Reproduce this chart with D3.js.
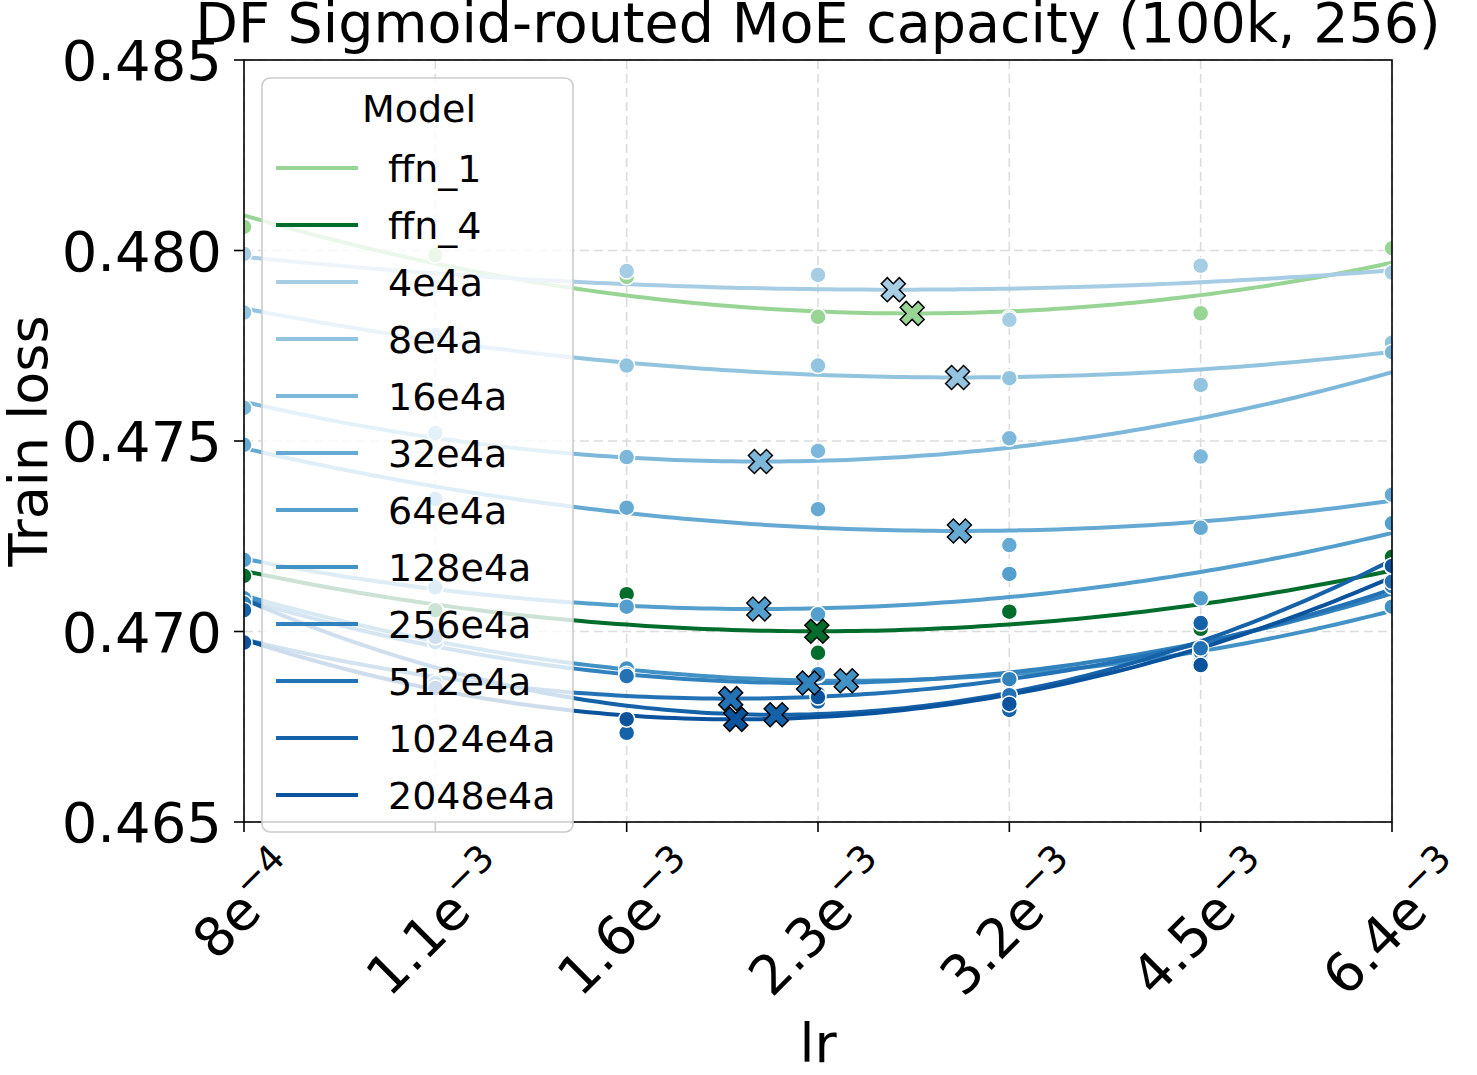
<!DOCTYPE html>
<html>
<head>
<meta charset="utf-8">
<script src="https://cdn.jsdelivr.net/npm/d3@7/dist/d3.min.js"></script>
<style>
  body { margin: 0; background: #fff; }
  text { font-family: "DejaVu Sans", sans-serif; fill: #000; }
</style>
</head>
<body>
<script>
// learning rates (x), one point per lr for each model
var lrs = [0.0008, 0.00113137, 0.0016, 0.00226274, 0.0032, 0.00452548, 0.0064];
var lrBase = ["8", "1.1", "1.6", "2.3", "3.2", "4.5", "6.4"];
var lrExp = ["4", "3", "3", "3", "3", "3", "3"];
var yTicks = [0.465, 0.470, 0.475, 0.480, 0.485];

var models = ["ffn_1", "ffn_4", "4e4a", "8e4a", "16e4a", "32e4a", "64e4a",
  "128e4a", "256e4a", "512e4a", "1024e4a", "2048e4a"];
var colours = ["#98d594", "#006d2c", "#a6cde4", "#93c4df", "#7db8da", "#66aad4",
  "#549fcd", "#4292c6", "#3182bd", "#2372b5", "#1562a9", "#0b539d"];

// train loss per lr
var loss_ffn_1   = [0.48062, 0.47988, 0.47931, 0.47826, 0.47823, 0.47835, 0.48006];
var loss_ffn_4   = [0.47146, 0.47056, 0.47098, 0.46944, 0.47052, 0.47007, 0.47196];
var loss_4e4a    = [0.47991, 0.47905, 0.47946, 0.47936, 0.47818, 0.47960, 0.47942];
var loss_8e4a    = [0.47837, 0.47778, 0.47698, 0.47698, 0.47665, 0.47647, 0.47758];
var loss_16e4a   = [0.47587, 0.47521, 0.47458, 0.47474, 0.47507, 0.47459, 0.47733];
var loss_32e4a   = [0.47490, 0.47348, 0.47325, 0.47321, 0.47227, 0.47272, 0.47359];
var loss_64e4a   = [0.47188, 0.47116, 0.47065, 0.47045, 0.47151, 0.47087, 0.47284];
var loss_128e4a  = [0.47087, 0.46982, 0.46903, 0.46886, 0.46870, 0.46938, 0.47065];
var loss_256e4a  = [0.47074, 0.46972, 0.46888, 0.46888, 0.46875, 0.46946, 0.47119];
var loss_512e4a  = [0.46971, 0.46864, 0.46883, 0.46836, 0.46833, 0.46956, 0.47131];
var loss_1024e4a = [0.47056, 0.46986, 0.46734, 0.46816, 0.46794, 0.47022, 0.47172];
var loss_2048e4a = [0.46971, 0.46852, 0.46770, 0.46828, 0.46810, 0.46912, 0.47172];

var losses = [loss_ffn_1, loss_ffn_4, loss_4e4a, loss_8e4a, loss_16e4a, loss_32e4a,
  loss_64e4a, loss_128e4a, loss_256e4a, loss_512e4a, loss_1024e4a, loss_2048e4a];

var W = 1477, H = 1075;
var pLeft = 244, pRight = 1392, pTop = 60, pBottom = 822;

var svg = d3.select("body").append("svg")
  .attr("width", W)
  .attr("height", H);

var x = d3.scaleLog().domain([lrs[0], lrs[lrs.length - 1]]).range([pLeft, pRight]);
var y = d3.scaleLinear().domain([0.465, 0.485]).range([pBottom, pTop]);

// log-lr in half-octave steps, keeps the fit well conditioned
function toT(lr) { return 2 * Math.log2(lr / lrs[0]); }
function fromT(t) { return lrs[0] * Math.pow(2, t / 2); }

// least squares quadratic y = c0 + c1 t + c2 t^2
function quadFit(ts, ys) {
  var s = [0, 0, 0, 0, 0], r = [0, 0, 0];
  ts.forEach(function(t, i) {
    for (var k = 0; k < 5; k++) s[k] += Math.pow(t, k);
    for (var k = 0; k < 3; k++) r[k] += ys[i] * Math.pow(t, k);
  });
  var M = [[s[0], s[1], s[2]], [s[1], s[2], s[3]], [s[2], s[3], s[4]]];
  function det(m) {
    return m[0][0] * (m[1][1] * m[2][2] - m[1][2] * m[2][1])
      - m[0][1] * (m[1][0] * m[2][2] - m[1][2] * m[2][0])
      + m[0][2] * (m[1][0] * m[2][1] - m[1][1] * m[2][0]);
  }
  var D = det(M);
  return [0, 1, 2].map(function(c) {
    var Mc = M.map(function(row, i) {
      return row.map(function(v, j) { return j === c ? r[i] : v; });
    });
    return det(Mc) / D;
  });
}

svg.append("defs").append("clipPath").attr("id", "plotclip")
  .append("rect")
    .attr("x", pLeft).attr("y", pTop)
    .attr("width", pRight - pLeft).attr("height", pBottom - pTop);

// grid
var grid = svg.append("g")
  .attr("stroke", "#dcdcdc")
  .attr("stroke-width", 1.6)
  .attr("stroke-dasharray", "9,5");
grid.selectAll(".gx").data(lrs).enter().append("line")
  .attr("x1", function(d) { return x(d); })
  .attr("x2", function(d) { return x(d); })
  .attr("y1", pTop).attr("y2", pBottom);
grid.selectAll(".gy").data(yTicks).enter().append("line")
  .attr("y1", function(d) { return y(d); })
  .attr("y2", function(d) { return y(d); })
  .attr("x1", pLeft).attr("x2", pRight);

var plot = svg.append("g").attr("clip-path", "url(#plotclip)");

var fits = losses.map(function(ys) {
  var c = quadFit(lrs.map(toT), ys);
  var tMin = -c[1] / (2 * c[2]);
  return { c: c, tMin: tMin, yMin: c[0] + c[1] * tMin + c[2] * tMin * tMin };
});

// fitted curves
var line = d3.line()
  .x(function(d) { return x(d[0]); })
  .y(function(d) { return y(d[1]); });

fits.forEach(function(f, i) {
  var pts = d3.range(0, 6.001, 0.05).map(function(t) {
    return [fromT(t), f.c[0] + f.c[1] * t + f.c[2] * t * t];
  });
  plot.append("path")
    .attr("d", line(pts))
    .attr("fill", "none")
    .attr("stroke", colours[i])
    .attr("stroke-width", 4);
});

// measured points
losses.forEach(function(ys, i) {
  plot.selectAll(null)
    .data(ys)
    .enter()
      .append("circle")
        .attr("cx", function(d, j) { return x(lrs[j]); })
        .attr("cy", function(d) { return y(d); })
        .attr("r", 8)
        .attr("fill", colours[i])
        .attr("stroke", "#fff")
        .attr("stroke-width", 1.5);
});

// fitted optimum, filled X marker
var xPts = [[0.25, 0], [0.5, -0.25], [0.25, -0.5], [0, -0.25], [-0.25, -0.5], [-0.5, -0.25],
  [-0.25, 0], [-0.5, 0.25], [-0.25, 0.5], [0, 0.25], [0.25, 0.5], [0.5, 0.25]];
var xSize = 24;
var xPath = "M" + xPts.map(function(p) { return (p[0] * xSize) + "," + (p[1] * xSize); }).join("L") + "Z";

fits.forEach(function(f, i) {
  plot.append("path")
    .attr("d", xPath)
    .attr("transform", "translate(" + x(fromT(f.tMin)) + "," + y(f.yMin) + ")")
    .attr("fill", colours[i])
    .attr("stroke", "#000")
    .attr("stroke-width", 1.5)
    .attr("stroke-linejoin", "miter");
});

// spines
svg.append("rect")
  .attr("x", pLeft).attr("y", pTop)
  .attr("width", pRight - pLeft).attr("height", pBottom - pTop)
  .attr("fill", "none")
  .attr("stroke", "#000")
  .attr("stroke-width", 1.6);

// y axis ticks
svg.selectAll(".yt").data(yTicks).enter().append("line")
  .attr("x1", pLeft - 10).attr("x2", pLeft)
  .attr("y1", function(d) { return y(d); })
  .attr("y2", function(d) { return y(d); })
  .attr("stroke", "#000").attr("stroke-width", 1.6);
svg.selectAll(".yl").data(yTicks).enter().append("text")
  .attr("x", pLeft - 22)
  .attr("y", function(d) { return y(d) + 20; })
  .attr("text-anchor", "end")
  .attr("font-size", 56)
  .text(function(d) { return d3.format(".3f")(d); });

// x axis ticks, rotated labels with exponent
svg.selectAll(".xt").data(lrs).enter().append("line")
  .attr("x1", function(d) { return x(d); })
  .attr("x2", function(d) { return x(d); })
  .attr("y1", pBottom).attr("y2", pBottom + 10)
  .attr("stroke", "#000").attr("stroke-width", 1.6);

lrs.forEach(function(lr, i) {
  var g = svg.append("g");
  var t = g.append("text").attr("font-size", 54);
  t.append("tspan").text(lrBase[i] + "e");
  t.append("tspan").attr("font-size", 37).attr("dy", -22).text("\u2212" + lrExp[i]);
  var bb = t.node().getBBox();
  t.attr("x", -bb.x - bb.width / 2).attr("y", -bb.y - bb.height / 2);
  var half = (bb.width + bb.height) / (2 * Math.SQRT2);
  g.attr("transform", "translate(" + x(lr) + "," + (pBottom + 14 + half) + ") rotate(-45)");
});

// axis labels and title
svg.append("text")
  .attr("x", (pLeft + pRight) / 2).attr("y", 1062)
  .attr("text-anchor", "middle")
  .attr("font-size", 54)
  .text("lr");

svg.append("text")
  .attr("transform", "translate(47," + ((pTop + pBottom) / 2) + ") rotate(-90)")
  .attr("text-anchor", "middle")
  .attr("font-size", 54)
  .text("Train loss");

svg.append("text")
  .attr("x", (pLeft + pRight) / 2).attr("y", 42)
  .attr("text-anchor", "middle")
  .attr("font-size", 55.5)
  .text("DF Sigmoid-routed MoE capacity (100k, 256)");

// legend
var legend = svg.append("g");
legend.append("rect")
  .attr("x", 262).attr("y", 78)
  .attr("width", 311).attr("height", 754)
  .attr("rx", 8)
  .attr("fill", "#fff").attr("fill-opacity", 0.8)
  .attr("stroke", "#cccccc").attr("stroke-width", 1.6);
legend.append("text")
  .attr("x", 419).attr("y", 122)
  .attr("text-anchor", "middle")
  .attr("font-size", 38)
  .text("Model");
models.forEach(function(m, i) {
  var ly = 168 + 57 * i;
  legend.append("line")
    .attr("x1", 276).attr("x2", 358)
    .attr("y1", ly).attr("y2", ly)
    .attr("stroke", colours[i])
    .attr("stroke-width", 4);
  legend.append("text")
    .attr("x", 388).attr("y", ly + 14)
    .attr("font-size", 38)
    .text(m);
});
</script>
</body>
</html>
